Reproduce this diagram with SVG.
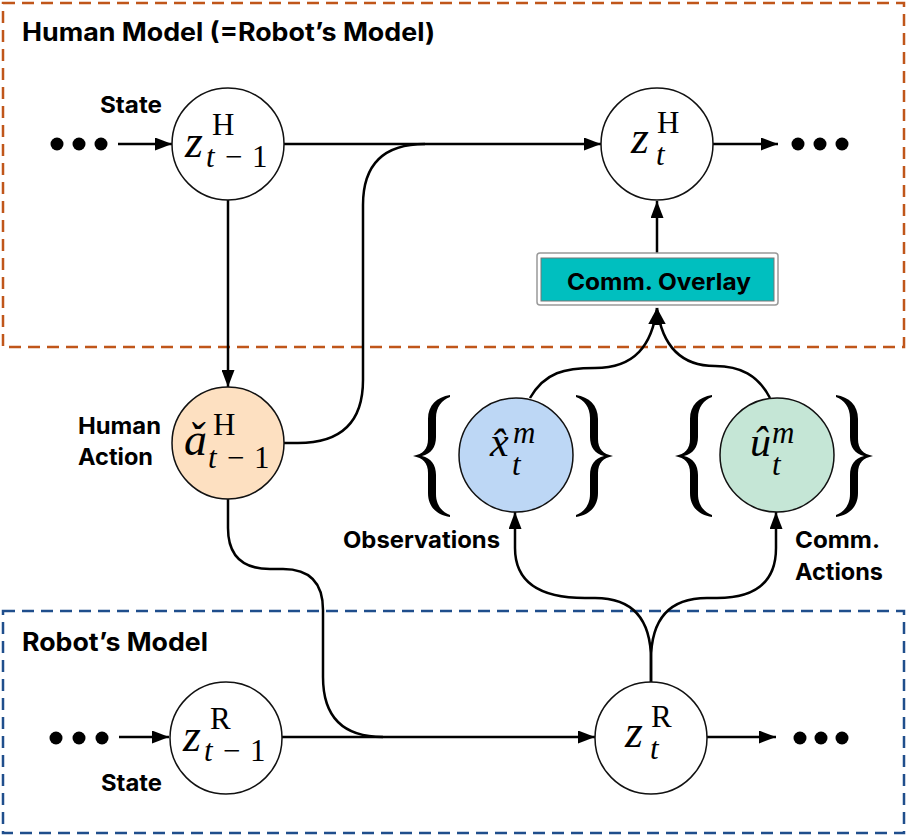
<svg xmlns="http://www.w3.org/2000/svg" width="907" height="837" viewBox="0 0 907 837">
<style>
.box{fill:none;stroke-width:2.5;stroke-dasharray:12 7}
.node{stroke:#111;stroke-width:1.5}
.edge{fill:none;stroke:#000;stroke-width:2.5}
.lbl{font-family:Inter,"Liberation Sans",Arial,sans-serif;font-weight:bold;font-size:23px;fill:#000}
.ttl{font-family:Inter,"Liberation Sans",Arial,sans-serif;font-weight:bold;font-size:25px;fill:#000}
.m{font-family:"Liberation Serif","Times New Roman",serif;fill:#000}
.i{font-style:italic}
.s{font-size:31px}
.dot{fill:#000}
</style>
<defs>
<marker id="ah" markerUnits="userSpaceOnUse" markerWidth="17" markerHeight="13" refX="17" refY="6.5" orient="auto">
<path d="M0,0 L17,6.5 L0,13 z" fill="#000"/>
</marker>
<path id="brace" d="M37,0 C24,2 15,10 15,24 L15,44 C15,54 10,59 0,61 C10,63 15,68 15,78 L15,98 C15,112 24,120 37,122 L37,120 C29,117 23,110 23,99 L23,80 C23,70 18,63 9,61 C18,59 23,52 23,42 L23,23 C23,12 29,5 37,2 Z" fill="#000"/>
</defs>

<rect class="box" x="3" y="3" width="901" height="344" stroke="#c0561a"/>
<rect class="box" x="3" y="611" width="901" height="222" stroke="#1f4e8c"/>
<text class="ttl" x="22" y="41" textLength="413" lengthAdjust="spacingAndGlyphs">Human Model (=Robot’s Model)</text>
<text class="ttl" x="22" y="651" textLength="186" lengthAdjust="spacingAndGlyphs">Robot’s Model</text>

<g id="connectors">
<path class="edge" d="M118,144 H172" marker-end="url(#ah)"/>
<path class="edge" d="M284,144 H601" marker-end="url(#ah)"/>
<path class="edge" d="M713,144 H778" marker-end="url(#ah)"/>
<path class="edge" d="M228,200 V387" marker-end="url(#ah)"/>
<path class="edge" d="M284,443 H298 Q363,443 363,380 V205 Q363,144 425,144"/>
<path class="edge" d="M657,253 V201" marker-end="url(#ah)"/>
<path class="edge" d="M530,398 C545,372 565,368 595,368 C635,368 652,345 657,308" marker-end="url(#ah)"/>
<path class="edge" d="M770,398 C758,375 740,366 715,366 C680,366 662,345 657,308" marker-end="url(#ah)"/>
<path class="edge" d="M228,499 V528 Q228,569 270,569 H283 Q323,569 323,610 V677 Q323,737 383,737"/>
<path class="edge" d="M119,737 H169" marker-end="url(#ah)"/>
<path class="edge" d="M282,737 H595" marker-end="url(#ah)"/>
<path class="edge" d="M707,737 H776" marker-end="url(#ah)"/>
<path class="edge" d="M651,682 V660 Q651,598 595,598 H585 Q515,598 515,548 V512" marker-end="url(#ah)"/>
<path class="edge" d="M651,682 V660 Q651,598 707,598 H717 Q776,598 776,548 V512" marker-end="url(#ah)"/>
</g>

<g id="dots">
<circle class="dot" cx="57" cy="144" r="6.5"/><circle class="dot" cx="79" cy="144" r="6.5"/><circle class="dot" cx="101" cy="144" r="6.5"/>
<circle class="dot" cx="798" cy="144" r="6.5"/><circle class="dot" cx="820" cy="144" r="6.5"/><circle class="dot" cx="842" cy="144" r="6.5"/>
<circle class="dot" cx="56" cy="738" r="6.5"/><circle class="dot" cx="79" cy="738" r="6.5"/><circle class="dot" cx="102" cy="738" r="6.5"/>
<circle class="dot" cx="800" cy="738" r="6.5"/><circle class="dot" cx="821" cy="738" r="6.5"/><circle class="dot" cx="842" cy="738" r="6.5"/>
</g>

<text class="lbl" x="100" y="113" textLength="62" lengthAdjust="spacingAndGlyphs">State</text>
<text class="lbl" x="101" y="791" textLength="61" lengthAdjust="spacingAndGlyphs">State</text>
<text class="lbl" x="78" y="434" textLength="83" lengthAdjust="spacingAndGlyphs">Human</text>
<text class="lbl" x="78" y="465" textLength="75" lengthAdjust="spacingAndGlyphs">Action</text>
<text class="lbl" x="343" y="548" textLength="157" lengthAdjust="spacingAndGlyphs">Observations</text>
<text class="lbl" x="795" y="548" textLength="85" lengthAdjust="spacingAndGlyphs">Comm.</text>
<text class="lbl" x="795" y="580" textLength="88" lengthAdjust="spacingAndGlyphs">Actions</text>

<g id="zH_tm1">
<circle class="node" cx="228" cy="144" r="56" fill="#fff"/>
<text class="m" font-size="46"><tspan class="i" x="185" y="157">z</tspan><tspan class="s" x="212" y="135">H</tspan><tspan class="s i" x="206" y="167">t</tspan><tspan class="s" x="225" y="167">−</tspan><tspan class="s" x="252" y="167">1</tspan></text>
</g>

<g id="zH_t">
<circle class="node" cx="657" cy="144" r="56" fill="#fff"/>
<text class="m" font-size="46"><tspan class="i" x="631" y="153">z</tspan><tspan class="s" x="657" y="133">H</tspan><tspan class="s i" x="656" y="165">t</tspan></text>
</g>

<g id="overlay">
<rect x="537" y="253" width="241" height="52" rx="3" fill="#fff" stroke="#999" stroke-width="1.5"/>
<rect x="541" y="258" width="233" height="43" fill="#00bfbf" stroke="#777" stroke-width="1"/>
<text class="lbl" x="567" y="290" textLength="184" lengthAdjust="spacingAndGlyphs">Comm. Overlay</text>
</g>

<g id="aH_tm1">
<circle class="node" cx="228" cy="443" r="56" fill="#fde0c1"/>
<text class="m" font-size="46"><tspan class="i" x="184" y="455">ǎ</tspan><tspan class="s" x="213" y="435">H</tspan><tspan class="s i" x="208" y="468">t</tspan><tspan class="s" x="227" y="468">−</tspan><tspan class="s" x="254" y="468">1</tspan></text>
</g>

<g id="xhat">
<use href="#brace" x="413" y="395"/>
<use href="#brace" transform="translate(613,395) scale(-1,1)"/>
<circle class="node" cx="516" cy="455" r="57" fill="#bdd7f5"/>
<text class="m" font-size="42"><tspan class="i" x="490" y="456">x̂</tspan><tspan class="s i" x="513" y="443">m</tspan><tspan class="s i" x="512" y="475">t</tspan></text>
</g>

<g id="uhat">
<use href="#brace" x="675" y="395"/>
<use href="#brace" transform="translate(873,395) scale(-1,1)"/>
<circle class="node" cx="777" cy="455" r="57" fill="#c5e6d6"/>
<text class="m" font-size="42"><tspan class="i" x="750" y="456">û</tspan><tspan class="s i" x="772" y="443">m</tspan><tspan class="s i" x="772" y="475">t</tspan></text>
</g>

<g id="zR_tm1">
<circle class="node" cx="226" cy="738" r="56" fill="#fff"/>
<text class="m" font-size="46"><tspan class="i" x="183" y="751">z</tspan><tspan class="s" x="210" y="729">R</tspan><tspan class="s i" x="204" y="761">t</tspan><tspan class="s" x="223" y="761">−</tspan><tspan class="s" x="250" y="761">1</tspan></text>
</g>

<g id="zR_t">
<circle class="node" cx="651" cy="738" r="56" fill="#fff"/>
<text class="m" font-size="46"><tspan class="i" x="625" y="747">z</tspan><tspan class="s" x="651" y="727">R</tspan><tspan class="s i" x="650" y="759">t</tspan></text>
</g>
</svg>
